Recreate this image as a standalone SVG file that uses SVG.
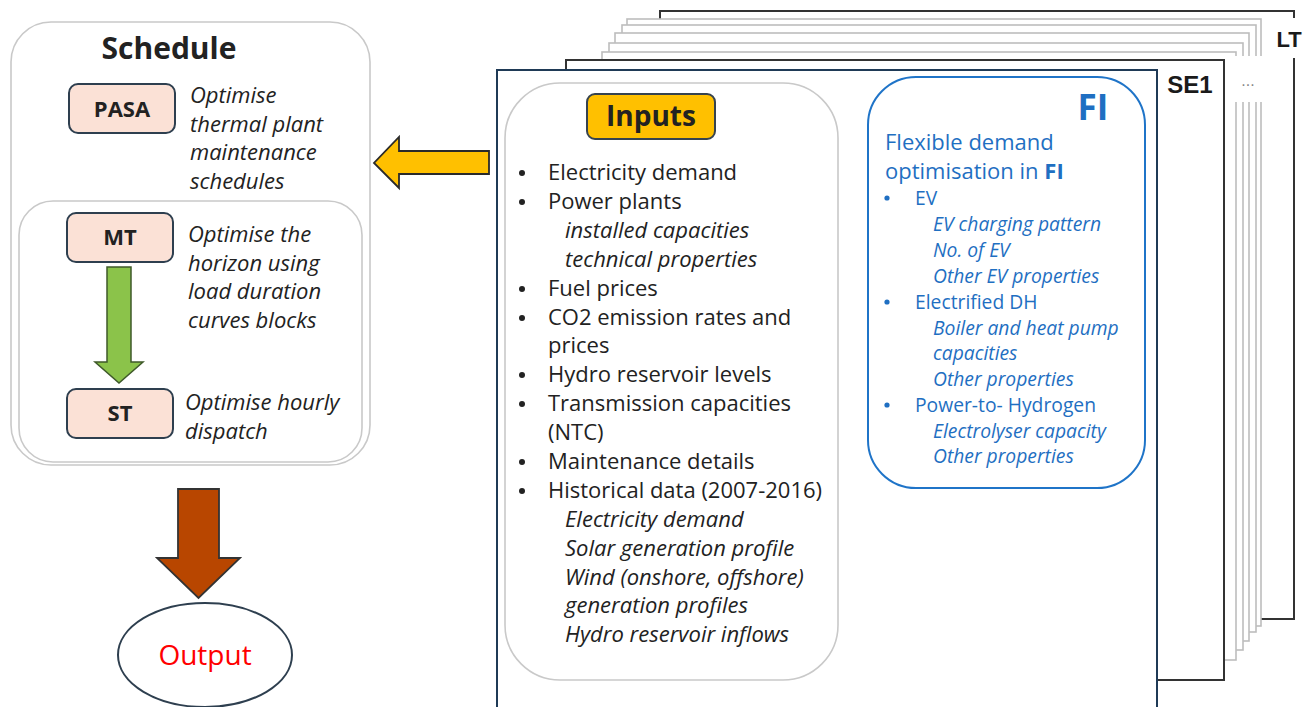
<svg xmlns="http://www.w3.org/2000/svg" width="1304" height="707" viewBox="0 0 1304 707">
<style>
.pg{fill:#fff;stroke:#333;stroke-width:2}
.pgg{fill:#fff;stroke:#bdbdbd;stroke-width:1.6}
.pgf{fill:#fff;stroke:#1f3a56;stroke-width:2}
.soft{fill:#fff;stroke:#c9c9c9;stroke-width:1.6}
.lbl{fill:#fbe1d6;stroke:#2e3f4f;stroke-width:2}
.t{font-family:"Open Sans","Noto Sans",sans-serif;fill:#222}
.b{font-weight:bold}
.i{font-style:italic}
.r{font-size:22px}
.bl{fill:#1f6fc2}
.dot{fill:#222}
.dotb{fill:#1f6fc2}
.cap{font-family:"Liberation Sans",Arial,sans-serif;font-weight:bold;fill:#1a1a1a}
</style>

<g id="page-stack">
  <rect class="pg" x="660" y="11" width="634" height="608"/>
  <rect class="pgg" x="627" y="19" width="634" height="607"/>
  <rect class="pgg" x="622" y="25" width="634" height="607"/>
  <rect class="pgg" x="615" y="33" width="634" height="608"/>
  <rect class="pgg" x="609" y="43" width="634" height="607"/>
  <rect class="pgg" x="602" y="52" width="634" height="608"/>
  <rect class="pg" x="566" y="60" width="658" height="620"/>
  <rect class="pgf" x="497" y="70" width="660" height="650"/>
  <rect x="1274" y="18" width="30" height="40" fill="#fff"/>
  <text class="cap" x="1289" y="47" font-size="22" text-anchor="middle">LT</text>
  <rect x="1229" y="56" width="37" height="46" fill="#fff"/>
  <text x="1248" y="86" font-family="Liberation Sans,Arial,sans-serif" font-size="16" fill="#888" text-anchor="middle">...</text>
  <text class="cap" x="1190" y="93" font-size="24" text-anchor="middle">SE1</text>
</g>

<g id="schedule">
  <rect class="soft" x="11" y="22" width="359" height="443" rx="40"/>
  <text class="t b" x="169" y="59" font-size="30" text-anchor="middle">Schedule</text>
  <rect class="soft" x="19" y="201" width="343" height="261" rx="34"/>
</g>

<g id="pasa">
  <rect class="lbl" x="69" y="84" width="106" height="49" rx="9"/>
  <text class="t b" x="122" y="117" font-size="22" text-anchor="middle">PASA</text>
  <text class="t i r" x="190" y="103">Optimise</text>
  <text class="t i r" x="190" y="132">thermal plant</text>
  <text class="t i r" x="190" y="160">maintenance</text>
  <text class="t i r" x="190" y="189">schedules</text>
</g>

<g id="mt">
  <rect class="lbl" x="67" y="213" width="106" height="49" rx="9"/>
  <text class="t b" x="120" y="245" font-size="22" text-anchor="middle">MT</text>
  <text class="t i r" x="188" y="242">Optimise the</text>
  <text class="t i r" x="188" y="271">horizon using</text>
  <text class="t i r" x="188" y="299">load duration</text>
  <text class="t i r" x="188" y="328">curves blocks</text>
</g>

<g id="st">
  <rect class="lbl" x="67" y="389" width="106" height="49" rx="9"/>
  <text class="t b" x="120" y="421" font-size="22" text-anchor="middle">ST</text>
  <text class="t i r" x="185" y="410">Optimise hourly</text>
  <text class="t i r" x="185" y="439">dispatch</text>
</g>

<g id="output">
  <ellipse cx="205" cy="655" rx="87" ry="52" fill="#fff" stroke="#2e3f4f" stroke-width="2"/>
  <text x="205" y="665" font-family="Open Sans,Noto Sans,sans-serif" font-size="28" fill="#ff0000" text-anchor="middle">Output</text>
</g>

<g id="inputs">
  <rect class="soft" x="505" y="83" width="333" height="597" rx="55"/>
  <rect x="587" y="94" width="128" height="45" rx="8" fill="#ffc000" stroke="#36434f" stroke-width="2"/>
  <text class="t b" x="651" y="126" font-size="28" text-anchor="middle">Inputs</text>
  <g class="dot">
    <circle cx="522" cy="173" r="3"/>
    <circle cx="522" cy="202" r="3"/>
    <circle cx="522" cy="289" r="3"/>
    <circle cx="522" cy="318" r="3"/>
    <circle cx="522" cy="375" r="3"/>
    <circle cx="522" cy="404" r="3"/>
    <circle cx="522" cy="462" r="3"/>
    <circle cx="522" cy="491" r="3"/>
  </g>
  <g class="t r">
    <text x="548" y="180">Electricity demand</text>
    <text x="548" y="209">Power plants</text>
    <text class="i" x="565" y="238">installed capacities</text>
    <text class="i" x="565" y="267">technical properties</text>
    <text x="548" y="296">Fuel prices</text>
    <text x="548" y="325">CO2 emission rates and</text>
    <text x="548" y="353">prices</text>
    <text x="548" y="382">Hydro reservoir levels</text>
    <text x="548" y="411">Transmission capacities</text>
    <text x="548" y="440">(NTC)</text>
    <text x="548" y="469">Maintenance details</text>
    <text x="548" y="498">Historical data (2007-2016)</text>
    <text class="i" x="565" y="527">Electricity demand</text>
    <text class="i" x="565" y="556">Solar generation profile</text>
    <text class="i" x="565" y="585">Wind (onshore, offshore)</text>
    <text class="i" x="565" y="613">generation profiles</text>
    <text class="i" x="565" y="642">Hydro reservoir inflows</text>
  </g>
</g>

<g id="fi">
  <rect x="868" y="77" width="277" height="411" rx="48" fill="#fff" stroke="#1f74c8" stroke-width="2"/>
  <text class="t b bl" x="1093" y="120" font-size="35" text-anchor="middle">FI</text>
  <text class="t bl" x="885" y="150" font-size="22">Flexible demand</text>
  <text class="t bl" x="885" y="179" font-size="22">optimisation in <tspan class="b">FI</tspan></text>
  <g class="dotb">
    <circle cx="887" cy="198" r="2.6"/>
    <circle cx="887" cy="302" r="2.6"/>
    <circle cx="887" cy="405" r="2.6"/>
  </g>
  <g class="t bl" font-size="19.3">
    <text x="915" y="205">EV</text>
    <text class="i" x="933" y="231">EV charging pattern</text>
    <text class="i" x="933" y="257">No. of EV</text>
    <text class="i" x="933" y="283">Other EV properties</text>
    <text x="915" y="309">Electrified DH</text>
    <text class="i" x="933" y="335">Boiler and heat pump</text>
    <text class="i" x="933" y="360">capacities</text>
    <text class="i" x="933" y="386">Other properties</text>
    <text x="915" y="412">Power-to- Hydrogen</text>
    <text class="i" x="933" y="438">Electrolyser capacity</text>
    <text class="i" x="933" y="463">Other properties</text>
  </g>
</g>

<g id="connectors">
  <polygon points="489,151 399,151 399,137 374,163 399,188 399,174 489,174" fill="#ffc000" stroke="#2a2a2a" stroke-width="1.8" stroke-linejoin="miter"/>
  <polygon points="107,267 131,267 131,362 143,362 119,383 95,362 107,362" fill="#8bc34a" stroke="#3f5a2a" stroke-width="1.5"/>
  <polygon points="178,489 219,489 219,558 240,558 198.5,598 157,558 178,558" fill="#b84600" stroke="#333" stroke-width="1.8"/>
</g>
</svg>
